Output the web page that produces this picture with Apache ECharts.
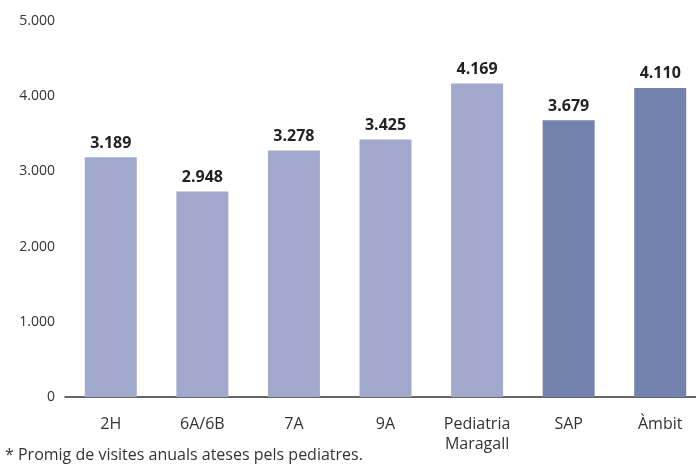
<!DOCTYPE html>
<html>
<head>
<meta charset="utf-8">
<script src="https://cdn.jsdelivr.net/npm/echarts@6/dist/echarts.min.js"></script>
<style>
  html, body { margin: 0; padding: 0; background: #fff; }
  #chart { width: 696px; height: 465px; }
</style>
</head>
<body>
<div id="chart"></div>
<script>
  // categories i valors (alçada de barra llegida del gràfic)
  var categories = ['2H', '6A/6B', '7A', '9A', 'Pediatria\nMaragall', 'SAP', 'Àmbit'];
  var values = [3189, 2733, 3278, 3425, 4169, 3679, 4110];
  // etiquetes impreses sobre cada barra
  var valueLabels = ['3.189', '2.948', '3.278', '3.425', '4.169', '3.679', '4.110'];
  var yTicks = [0, 1000, 2000, 3000, 4000, 5000];

  var lightColor = '#a1aacc';
  var darkColor = '#7281ae';
  var fontFam = '"Open Sans", Lato, sans-serif';

  var chart = echarts.init(document.getElementById('chart'));

  chart.setOption({
    animation: false,
    textStyle: { fontFamily: fontFam },
    title: {
      text: '* Promig de visites anuals ateses pels pediatres.',
      left: 0,
      bottom: -3,
      textStyle: { fontSize: 16, fontWeight: 'normal', color: '#333', fontFamily: fontFam }
    },
    grid: { left: 65, width: 641, top: 21, bottom: 68, containLabel: false, outerBoundsMode: 'none' },
    xAxis: {
      type: 'category',
      data: categories,
      axisLine: { lineStyle: { color: '#333', width: 1.5 } },
      axisTick: { show: false },
      axisLabel: { color: '#333', fontSize: 16, margin: 17, lineHeight: 20 }
    },
    yAxis: {
      type: 'value',
      min: yTicks[0],
      max: yTicks[yTicks.length - 1],
      interval: 1000,
      axisLine: { show: false },
      axisTick: { show: false },
      splitLine: { show: false },
      axisLabel: {
        color: '#333',
        fontSize: 14,
        margin: 10,
        formatter: function (v) {
          return v === 0 ? '0' : (v / 1000) + '.000';
        }
      }
    },
    series: [{
      type: 'bar',
      barWidth: 52,
      data: values.map(function (v, i) {
        return {
          value: v,
          itemStyle: { color: i >= 5 ? darkColor : lightColor }
        };
      }),
      label: {
        show: true,
        position: 'top',
        distance: 6,
        color: '#222',
        fontSize: 16,
        fontWeight: 'bold',
        formatter: function (p) { return valueLabels[p.dataIndex]; }
      }
    }]
  });
</script>
</body>
</html>
